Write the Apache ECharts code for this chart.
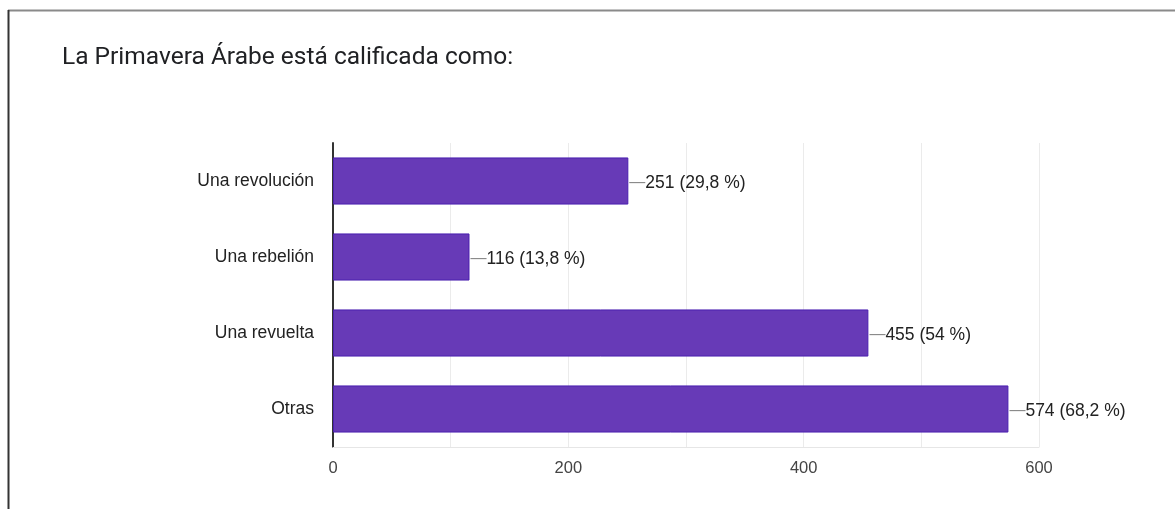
<!DOCTYPE html>
<html>
<head>
<meta charset="utf-8">
<script src="https://cdn.jsdelivr.net/npm/echarts@6/dist/echarts.min.js"></script>
<style>
  html, body { margin: 0; padding: 0; background: #fff; }
  #chart { width: 1175px; height: 509px; }
</style>
</head>
<body>
<div id="chart"></div>
<script>
// datos
var categorias = ['Una revolución', 'Una rebelión', 'Una revuelta', 'Otras'];
var respuestas = [251, 116, 455, 574];
var porcentajes = ['29,8', '13,8', '54', '68,2'];
var ticksX = [0, 200, 400, 600];

var myChart = echarts.init(document.getElementById('chart'));

var option = {
    backgroundColor: '#fff',
    animation: false,
    title: {
        text: 'La Primavera Árabe está calificada como:',
        left: 62,
        top: 45,
        padding: 0,
        textStyle: {
            fontFamily: 'Roboto',
            fontWeight: 'normal',
            fontSize: 24.5,
            color: '#202124'
        }
    },
    graphic: [
        { type: 'line', shape: { x1: 8, y1: 10.5, x2: 1175, y2: 10.5 }, style: { stroke: '#8a8a8a', lineWidth: 2 } },
        { type: 'line', shape: { x1: 8.5, y1: 10, x2: 8.5, y2: 509 }, style: { stroke: '#333', lineWidth: 2 } }
    ],
    grid: {
        left: 333,
        right: 136,
        top: 143,
        bottom: 62
    },
    xAxis: {
        type: 'value',
        min: ticksX[0],
        max: ticksX[ticksX.length - 1],
        interval: 200,
        axisLine: { show: true, lineStyle: { color: '#e6e6e6', width: 1 } },
        axisTick: { show: false },
        axisLabel: {
            fontFamily: 'Arial',
            fontSize: 16.5,
            color: '#444',
            margin: 13
        },
        splitLine: { lineStyle: { color: '#ebebeb', width: 1 } },
        minorTick: { show: false, splitNumber: 2 },
        minorSplitLine: { show: true, lineStyle: { color: '#ebebeb', width: 1 } }
    },
    yAxis: {
        type: 'category',
        inverse: true,
        data: categorias,
        axisLine: { show: true, lineStyle: { color: '#333', width: 2 } },
        axisTick: { show: false },
        axisLabel: {
            fontFamily: 'Arial',
            fontSize: 17.5,
            color: '#222',
            margin: 19,
            padding: [4, 0, 0, 0]
        }
    },
    series: [
        {
            type: 'bar',
            data: respuestas,
            barWidth: '62%',
            itemStyle: {
                color: '#673ab7',
                borderColor: '#4a1fb0',
                borderWidth: 1
            },
            label: {
                show: true,
                position: 'right',
                distance: 1,
                offset: [0, 2],
                formatter: function (p) {
                    return '{ln|—}{t|' + p.value + ' (' + porcentajes[p.dataIndex] + ' %)}';
                },
                rich: {
                    ln: { color: '#888', fontSize: 16, fontFamily: 'Arial' },
                    t: { color: '#222', fontSize: 17.5, fontFamily: 'Arial' }
                }
            }
        }
    ]
};

myChart.setOption(option);
</script>
</body>
</html>
